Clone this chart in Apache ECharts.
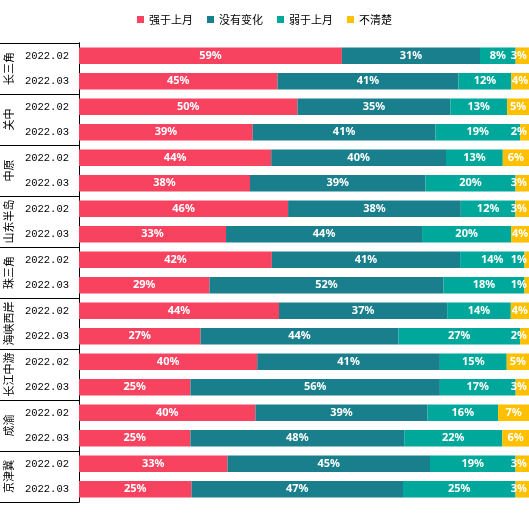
<!DOCTYPE html>
<html>
<head>
<meta charset="utf-8">
<script src="https://cdn.jsdelivr.net/npm/echarts@6/dist/echarts.min.js"></script>
<style>
  html, body { margin: 0; padding: 0; background: #fff; }
  #main { width: 529px; height: 514px; }
</style>
</head>
<body>
<div id="main"></div>
<script>
// 区域 & 月份
var groups = ['长三角', '关中', '中原', '山东半岛', '珠三角', '海峡西岸', '长江中游', '成渝', '京津冀'];
var months = ['2022.02', '2022.03'];
var seriesNames = ['强于上月', '没有变化', '弱于上月', '不清楚'];
var colors = ['#F74260', '#1A7F8C', '#00A89B', '#FFC000'];

// 每行两个月，按区域顺序
var stronger  = [59, 45, 50, 39, 44, 38, 46, 33, 42, 29, 44, 27, 40, 25, 40, 25, 33, 25];
var unchanged = [31, 41, 35, 41, 40, 39, 38, 44, 41, 52, 37, 44, 41, 56, 39, 48, 45, 47];
var weaker    = [8, 12, 13, 19, 13, 20, 12, 20, 14, 18, 14, 27, 15, 17, 16, 22, 19, 25];
var unclear   = [3, 4, 5, 2, 6, 3, 3, 4, 1, 1, 4, 2, 5, 3, 7, 6, 3, 3];

var rows = [];
groups.forEach(function (g) {
    months.forEach(function (m) { rows.push(g + '|' + m); });
});

var allValues = [stronger, unchanged, weaker, unclear];
// 每行合计（标签是四舍五入的值，条形按占比铺满）
var totals = rows.map(function (r, i) {
    return stronger[i] + unchanged[i] + weaker[i] + unclear[i];
});

var series = allValues.map(function (vals, k) {
    return {
        name: seriesNames[k],
        type: 'bar',
        stack: 'total',
        barCategoryGap: '35%',
        itemStyle: { color: colors[k] },
        data: vals.map(function (v, i) {
            var item = { value: v / totals[i] * 100 };
            if (k === 3 && v <= 3) {
                item.label = { position: 'insideRight', distance: 2 };
            }
            return item;
        }),
        label: {
            show: true,
            position: 'inside',
            color: '#fff',
            fontFamily: 'Noto Sans',
            fontWeight: 'bold',
            fontSize: 11,
            formatter: function (p) { return vals[p.dataIndex] + '%'; }
        }
    };
});

var myChart = echarts.init(document.getElementById('main'));
myChart.setOption({
    animation: false,
    legend: {
        top: 9,
        left: 'center',
        icon: 'rect',
        itemWidth: 7,
        itemHeight: 7,
        itemGap: 14,
        textStyle: { fontFamily: 'Noto Sans CJK SC', fontSize: 11, color: '#000' },
        data: seriesNames
    },
    grid: { left: 79, right: 0, top: 43, bottom: 12, containLabel: false },
    xAxis: { type: 'value', min: 0, max: 100, show: false },
    yAxis: [{
        type: 'category',
        inverse: true,
        data: rows,
        axisLine: { show: true, lineStyle: { color: '#000', width: 1 } },
        axisTick: { show: false },
        axisLabel: {
            interval: 0,
            margin: 10,
            color: '#000',
            fontFamily: 'Liberation Mono',
            fontSize: 10.5,
            formatter: function (v) { return v.split('|')[1]; }
        }
    }, {
        type: 'category',
        inverse: true,
        position: 'left',
        data: groups,
        axisLine: { show: true, lineStyle: { color: '#000', width: 1 } },
        axisTick: { show: true, interval: 0, length: 79, lineStyle: { color: '#000', width: 1 } },
        axisLabel: {
            interval: 0,
            rotate: 90,
            margin: 65,
            color: '#000',
            fontFamily: 'Noto Sans CJK SC',
            fontSize: 11
        }
    }],
    series: series
});
</script>
</body>
</html>
